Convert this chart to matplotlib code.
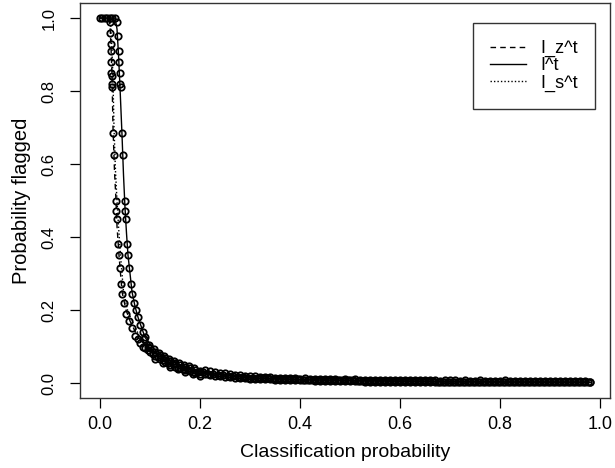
import matplotlib
matplotlib.use("Agg")
import matplotlib.pyplot as plt

plt.rcParams['font.family'] = ['Liberation Sans', 'DejaVu Sans']

# Curves
z_x = [0.0, 0.018, 0.020, 0.022, 0.024, 0.026, 0.029, 0.032, 0.034, 0.038, 0.044,
       0.052, 0.060, 0.076, 0.100, 0.140, 0.200, 0.300, 0.400, 0.600, 0.800, 0.980]
z_y = [1.0, 1.0, 0.98, 0.92, 0.84, 0.70, 0.58, 0.50, 0.43, 0.35, 0.25,
       0.20, 0.17, 0.125, 0.09, 0.055, 0.030, 0.015, 0.009, 0.005, 0.003, 0.002]

i_x = [0.0, 0.030, 0.034, 0.037, 0.040, 0.044, 0.047, 0.050, 0.053, 0.056, 0.064,
       0.070, 0.076, 0.090, 0.110, 0.150, 0.210, 0.300, 0.400, 0.600, 0.800, 0.980]
i_y = [1.0, 1.0, 0.97, 0.90, 0.81, 0.68, 0.57, 0.48, 0.41, 0.35, 0.25,
       0.21, 0.18, 0.125, 0.09, 0.055, 0.028, 0.014, 0.009, 0.005, 0.003, 0.002]

s_x = [0.0, 0.020, 0.022, 0.024, 0.026, 0.028, 0.031, 0.034, 0.037, 0.041, 0.047,
       0.055, 0.064, 0.080, 0.104, 0.145, 0.205, 0.300, 0.400, 0.600, 0.800, 0.980]
s_y = [1.0, 1.0, 0.97, 0.91, 0.83, 0.70, 0.58, 0.50, 0.43, 0.35, 0.25,
       0.20, 0.17, 0.125, 0.09, 0.055, 0.029, 0.015, 0.009, 0.005, 0.003, 0.002]

# Scatter of individual points
pt_x = [0.0, 0.005, 0.010, 0.015, 0.020, 0.025, 0.030,
        0.020, 0.021, 0.022, 0.022, 0.023, 0.023, 0.024, 0.024, 0.025, 0.026, 0.027,
        0.031, 0.032, 0.033, 0.036, 0.037, 0.039, 0.042, 0.044, 0.047, 0.052, 0.058,
        0.063, 0.070, 0.075,
        0.033, 0.035, 0.037, 0.038, 0.039, 0.040, 0.041, 0.044, 0.045, 0.049, 0.050,
        0.051, 0.054, 0.055, 0.058, 0.062, 0.064, 0.068, 0.072, 0.075, 0.080, 0.085, 0.090,
        0.080, 0.085, 0.090, 0.095, 0.100, 0.105, 0.110, 0.115, 0.120, 0.125, 0.130,
        0.135, 0.140, 0.145, 0.150, 0.155, 0.160, 0.165, 0.170, 0.175, 0.180, 0.185,
        0.190, 0.195, 0.200, 0.095, 0.100, 0.110, 0.120, 0.130, 0.140, 0.150, 0.160,
        0.170, 0.180, 0.190, 0.200, 0.110, 0.125, 0.140, 0.155, 0.170, 0.185, 0.200,
        0.088, 0.098, 0.108, 0.118, 0.128, 0.138, 0.148, 0.158, 0.168, 0.178, 0.188]
pt_y = [1.0, 1.0, 1.0, 1.0, 1.0, 1.0, 1.0,
        0.99, 0.96, 0.93, 0.91, 0.88, 0.85, 0.84, 0.82, 0.81, 0.685, 0.625,
        0.50, 0.47, 0.45, 0.38, 0.35, 0.315, 0.27, 0.245, 0.22, 0.19, 0.17,
        0.15, 0.13, 0.12,
        0.99, 0.95, 0.91, 0.88, 0.85, 0.82, 0.81, 0.685, 0.625, 0.50, 0.47,
        0.45, 0.38, 0.35, 0.315, 0.27, 0.245, 0.22, 0.20, 0.18, 0.16, 0.14, 0.125,
        0.110, 0.100, 0.095, 0.090, 0.085, 0.080, 0.075, 0.070, 0.065, 0.062, 0.058,
        0.055, 0.050, 0.052, 0.045, 0.042, 0.040, 0.038, 0.035, 0.036, 0.032, 0.030,
        0.028, 0.030, 0.025, 0.100, 0.095, 0.085, 0.078, 0.068, 0.060, 0.055, 0.050,
        0.045, 0.040, 0.036, 0.033, 0.065, 0.055, 0.045, 0.038, 0.030, 0.025, 0.020,
        0.120, 0.105, 0.092, 0.082, 0.074, 0.066, 0.060, 0.056, 0.050, 0.046, 0.041]

tail_x = [0.21, 0.22, 0.23, 0.24, 0.25, 0.26, 0.27, 0.28, 0.29, 0.30,
          0.31, 0.32, 0.33, 0.34, 0.35, 0.36, 0.37, 0.38, 0.39, 0.40,
          0.41, 0.42, 0.43, 0.44, 0.45, 0.46, 0.47, 0.48, 0.49, 0.50,
          0.51, 0.52, 0.53, 0.54, 0.55, 0.56, 0.57, 0.58, 0.59, 0.60,
          0.61, 0.62, 0.63, 0.64, 0.65, 0.66, 0.67, 0.68, 0.69, 0.70,
          0.71, 0.72, 0.73, 0.74, 0.75, 0.76, 0.77, 0.78, 0.79, 0.80,
          0.81, 0.82, 0.83, 0.84, 0.85, 0.86, 0.87, 0.88, 0.89, 0.90,
          0.91, 0.92, 0.93, 0.94, 0.95, 0.96, 0.97, 0.98]
tail_mid_x = [0.205, 0.215, 0.225, 0.235, 0.245, 0.255, 0.265, 0.275, 0.285, 0.295,
              0.305, 0.315, 0.325, 0.335, 0.345, 0.355, 0.365, 0.375, 0.385, 0.395,
              0.405, 0.415, 0.425, 0.435, 0.445, 0.455, 0.465, 0.475, 0.485, 0.495,
              0.505, 0.515, 0.525, 0.535, 0.545, 0.555, 0.565, 0.575, 0.585, 0.595,
              0.605, 0.615, 0.625, 0.635, 0.645, 0.655, 0.665, 0.675, 0.685, 0.695,
              0.705, 0.715, 0.725, 0.735, 0.745, 0.755, 0.765, 0.775, 0.785, 0.795,
              0.805, 0.815, 0.825, 0.835, 0.845, 0.855, 0.865, 0.875, 0.885, 0.895,
              0.905, 0.915, 0.925, 0.935, 0.945, 0.955, 0.965, 0.975]
tail_lo = [0.024, 0.022, 0.020, 0.019, 0.017, 0.016, 0.015, 0.014, 0.013, 0.012,
           0.012, 0.011, 0.010, 0.010, 0.009, 0.009, 0.008, 0.008, 0.008, 0.007,
           0.007, 0.007, 0.006, 0.006, 0.006, 0.006, 0.005, 0.005, 0.005, 0.005,
           0.005, 0.005, 0.004, 0.004, 0.004, 0.004, 0.004, 0.004, 0.004, 0.004,
           0.004, 0.003, 0.003, 0.003, 0.003, 0.003, 0.003, 0.003, 0.003, 0.003,
           0.003, 0.003, 0.003, 0.003, 0.003, 0.003, 0.002, 0.002, 0.002, 0.002,
           0.002, 0.002, 0.002, 0.002, 0.002, 0.002, 0.002, 0.002, 0.002, 0.002,
           0.002, 0.002, 0.002, 0.002, 0.002, 0.002, 0.002, 0.002]
tail_mid = [0.030, 0.026, 0.025, 0.023, 0.021, 0.020, 0.018, 0.017, 0.016, 0.015,
            0.015, 0.014, 0.013, 0.013, 0.012, 0.011, 0.011, 0.010, 0.010, 0.010,
            0.009, 0.009, 0.009, 0.008, 0.008, 0.008, 0.007, 0.007, 0.007, 0.007,
            0.007, 0.006, 0.006, 0.006, 0.006, 0.006, 0.006, 0.006, 0.005, 0.005,
            0.005, 0.005, 0.005, 0.005, 0.005, 0.005, 0.005, 0.004, 0.004, 0.004,
            0.004, 0.004, 0.004, 0.004, 0.004, 0.004, 0.004, 0.004, 0.004, 0.004,
            0.004, 0.004, 0.003, 0.003, 0.003, 0.003, 0.003, 0.003, 0.003, 0.003,
            0.003, 0.003, 0.003, 0.003, 0.003, 0.003, 0.003, 0.003]
tail_hi = [0.036, 0.033, 0.030, 0.028, 0.027, 0.024, 0.022, 0.022, 0.020, 0.018,
           0.019, 0.017, 0.016, 0.017, 0.015, 0.014, 0.015, 0.013, 0.013, 0.012,
           0.013, 0.011, 0.011, 0.012, 0.010, 0.011, 0.010, 0.009, 0.010, 0.009,
           0.010, 0.009, 0.008, 0.009, 0.008, 0.008, 0.009, 0.008, 0.007, 0.008,
           0.008, 0.007, 0.007, 0.008, 0.007, 0.007, 0.008, 0.006, 0.007, 0.007,
           0.007, 0.006, 0.007, 0.006, 0.006, 0.007, 0.006, 0.006, 0.006, 0.006,
           0.007, 0.006, 0.005, 0.006, 0.006, 0.005, 0.006, 0.005, 0.006, 0.005,
           0.005, 0.006, 0.005, 0.005, 0.006, 0.005, 0.005, 0.004]

x_ticks = [0.0, 0.2, 0.4, 0.6, 0.8, 1.0]
y_ticks = [0.0, 0.2, 0.4, 0.6, 0.8, 1.0]

fig = plt.figure(figsize=(6.15, 4.68), dpi=100)
ax = fig.add_axes([0.1307, 0.1504, 0.861, 0.8423])

mk = dict(marker='o', markersize=4.6, markerfacecolor='none',
          markeredgecolor='black', markeredgewidth=1.3, linestyle='none')
ax.plot(pt_x, pt_y, **mk)
ax.plot(tail_x, tail_lo, **mk)
ax.plot(tail_mid_x, tail_mid, **mk)
ax.plot(tail_x, tail_hi, **mk)

ax.plot(z_x, z_y, color='black', lw=1.0, ls=(0, (4, 3)), label='I_z^t')
ax.plot(i_x, i_y, color='black', lw=1.0, ls='-', label='I^t')
ax.plot(s_x, s_y, color='black', lw=1.0, ls=(0, (1, 1.5)), label='I_s^t')

ax.set_xlim(-0.0392, 1.0192)
ax.set_ylim(-0.04, 1.04)
ax.set_xticks(x_ticks)
ax.set_xticklabels(['%.1f' % v for v in x_ticks], fontsize=13)
ax.set_yticks(y_ticks)
ax.set_yticklabels(['%.1f' % v for v in y_ticks], rotation=90, va='center', fontsize=12)
ax.tick_params(direction='out', length=7, width=0.9)
ax.tick_params(axis='x', pad=6)
ax.tick_params(axis='y', pad=10)
for s in ax.spines.values():
    s.set_linewidth(1.0)
    s.set_color('#333333')

ax.set_xlabel('Classification probability', fontsize=14, labelpad=8)
ax.set_ylabel('Probability flagged', fontsize=14.5, labelpad=8)

leg = ax.legend(loc='upper right', bbox_to_anchor=(0.9724, 0.950), fontsize=13,
                frameon=True, fancybox=False, handlelength=2.0, handletextpad=0.8,
                labelspacing=0.0, borderpad=0.95, borderaxespad=0)
leg.get_frame().set_edgecolor('black')
leg.get_frame().set_linewidth(1.0)

fig.savefig('out.png', dpi=100)
